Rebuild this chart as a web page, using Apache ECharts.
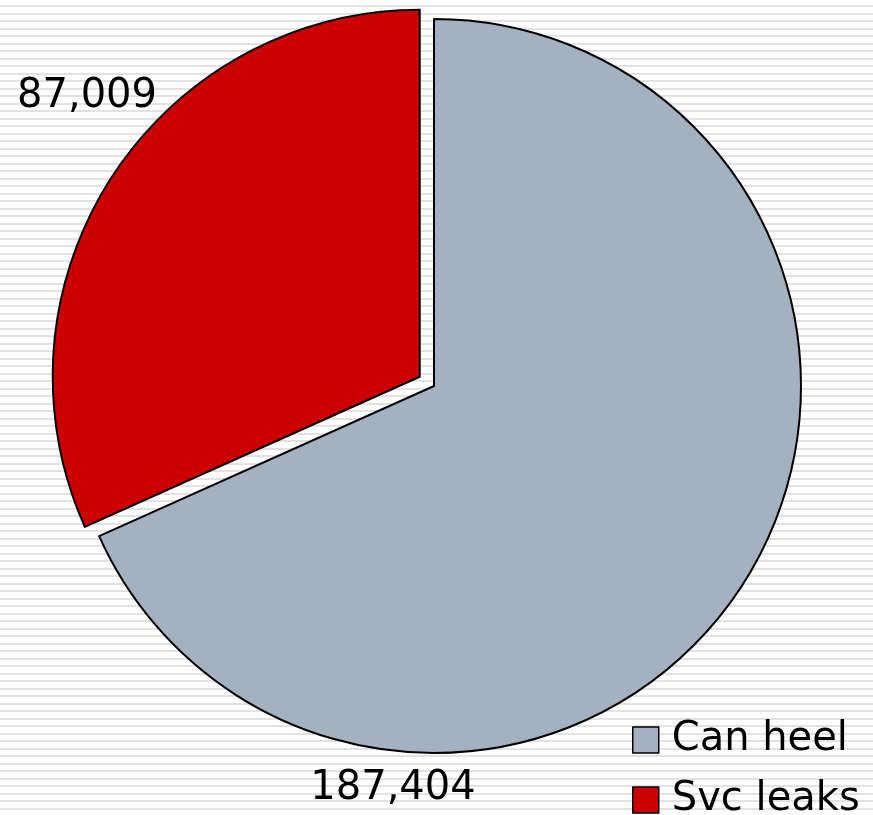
<!DOCTYPE html>
<html>
<head>
<meta charset="utf-8">
<script src="https://cdn.jsdelivr.net/npm/echarts@6/dist/echarts.min.js"></script>
<style>
html,body{margin:0;padding:0;}
body{background:repeating-linear-gradient(to bottom,#ffffff 0px,#ffffff 5.5px,#e2e2e2 5.5px,#e2e2e2 7.5px);}
#chart{width:873px;height:815px;}
</style>
</head>
<body>
<div id="chart"></div>
<script>
var categories = ['Can heel', 'Svc leaks'];
var values = [187404, 87009];
var colors = ['#A3B1C1', '#CC0000'];

var chart = echarts.init(document.getElementById('chart'), null, {renderer: 'canvas'});
var labelPos = [[393, 789], [87, 97]];
chart.setOption({
  backgroundColor: 'transparent',
  animation: false,
  legend: {
    orient: 'vertical',
    left: 632,
    top: 720,
    height: 150,
    padding: 0,
    itemWidth: 26,
    itemHeight: 26,
    itemGap: 20,
    icon: 'rect',
    selectedMode: false,
    itemStyle: {borderColor: '#000', borderWidth: 1.5},
    textStyle: {fontFamily: 'DejaVu Sans', fontSize: 40, color: '#000', lineHeight: 26, padding: [0,0,0,8]},
    data: categories
  },
  series: [{
    type: 'pie',
    center: [434, 386],
    radius: 367,
    startAngle: 90,
    clockwise: true,
    selectedMode: 'single',
    selectedOffset: 17,
    emphasis: {disabled: true},
    itemStyle: {borderColor: '#000', borderWidth: 2},
    label: {show: false},
    labelLine: {show: false},
    data: categories.map(function (c, i) {
      return {name: c, value: values[i], selected: i === 1, itemStyle: {color: colors[i]}};
    })
  }, {
    type: 'pie',
    center: [434, 386],
    radius: 367,
    startAngle: 90,
    clockwise: true,
    silent: true,
    selectedMode: false,
    emphasis: {disabled: true},
    itemStyle: {color: 'rgba(0,0,0,0)', borderWidth: 0},
    label: {
      show: true,
      position: 'outside',
      overflow: 'none',
      fontFamily: 'DejaVu Sans',
      fontSize: 40,
      color: '#000',
      formatter: function (p) { return p.value.toLocaleString('en-US'); }
    },
    labelLine: {show: false},
    labelLayout: function (p) {
      return {x: labelPos[p.dataIndex][0], y: labelPos[p.dataIndex][1], align: 'center', verticalAlign: 'middle'};
    },
    data: categories.map(function (c, i) {
      return {name: c, value: values[i]};
    })
  }]
});
</script>
</body>
</html>
